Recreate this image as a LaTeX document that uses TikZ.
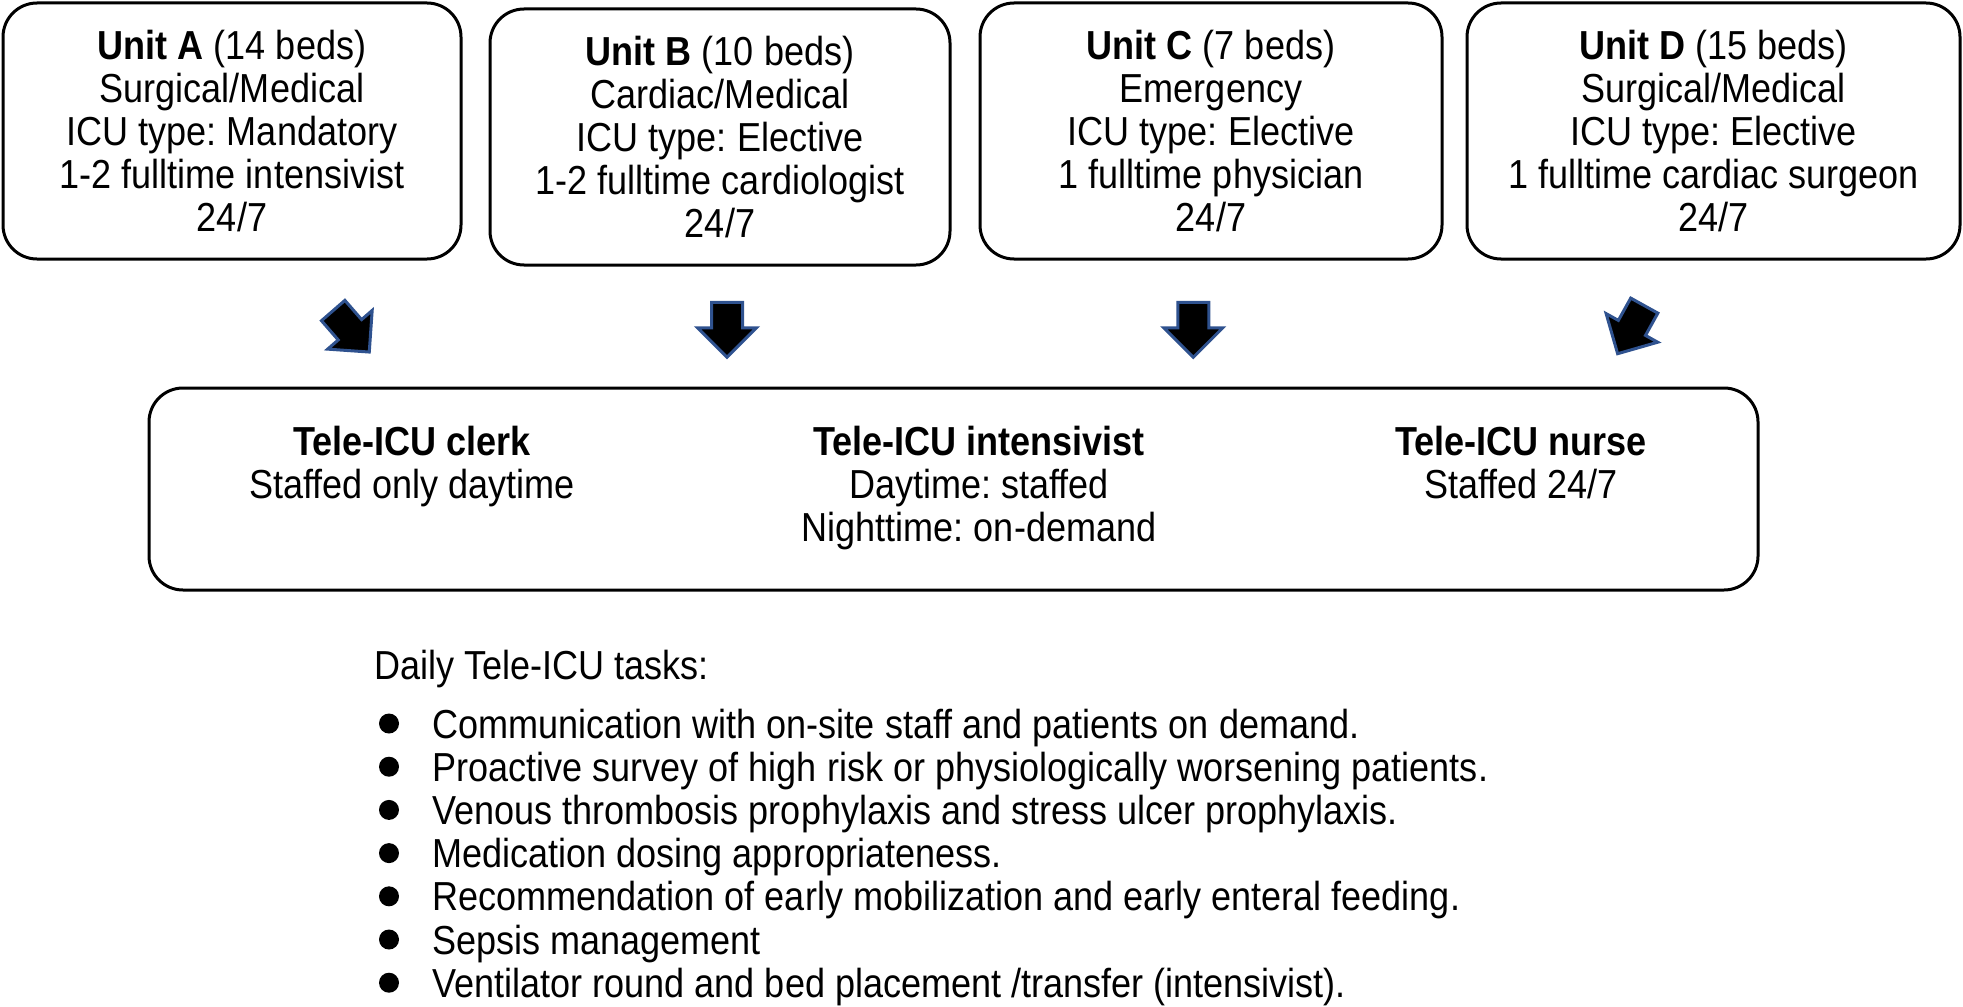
\documentclass[tikz,border=0pt]{standalone}
\usepackage{fontspec}
\setmainfont{Liberation Sans}[FakeStretch=0.89]
\usetikzlibrary{shapes.arrows}
\definecolor{arrowedge}{RGB}{47,82,143}
\frenchspacing
\tikzset{unitbox/.style={draw,line width=1.5pt,rounded corners=17pt,align=center,inner sep=0pt},
	staffnode/.style={align=center,inner sep=0pt,anchor=north},
	blockarrow/.style={single arrow,draw=arrowedge,fill=black,line width=1.5pt,anchor=tail,
		minimum height=27.5pt,inner xsep=0pt,inner ysep=7pt,
		single arrow head extend=7pt,single arrow tip angle=90},
	tasknode/.style={anchor=base west,inner sep=0pt},
	dotnode/.style={circle,fill=black,inner sep=0pt,minimum size=10pt}}

\begin{document}
\begin{tikzpicture}
	[x=0.5pt,y=-0.5pt,font=\fontsize{20.25pt}{21.4pt}\selectfont]
	\useasboundingbox (0,0) rectangle (1963,1006);
	% units
	\node [unitbox,minimum width=229pt,minimum height=128pt] (unitA) at (232,131)
	{\textbf{Unit A} (14 beds)\\Surgical/Medical\\ICU type: Mandatory\\1-2 fulltime intensivist\\24/7};
	\node [unitbox,minimum width=230pt,minimum height=128pt] (unitB) at (720,137)
	{\textbf{Unit B} (10 beds)\\Cardiac/Medical\\ICU type: Elective\\1-2 fulltime cardiologist\\24/7};
	\node [unitbox,minimum width=231pt,minimum height=128pt] (unitC) at (1211,131)
	{\textbf{Unit C} (7 beds)\\Emergency\\ICU type: Elective\\1 fulltime physician\\24/7};
	\node [unitbox,minimum width=246.5pt,minimum height=128pt] (unitD) at (1713.5,131)
	{\textbf{Unit D} (15 beds)\\Surgical/Medical\\ICU type: Elective\\1 fulltime cardiac surgeon\\24/7};
	% block arrows
	\node [blockarrow,rotate=-49] (arrA) at (332.2,309.4) {};
	\node [blockarrow,rotate=-90] (arrB) at (727,300.8) {};
	\node [blockarrow,rotate=-90] (arrC) at (1193.3,300.8) {};
	\node [blockarrow,rotate=-119] (arrD) at (1645,304.3) {};
	% tele-icu
	\node [unitbox,minimum width=804.5pt,minimum height=101pt] (tele) at (953.5,489) {};
	\node [staffnode] (clerk) at (412,426) {\textbf{Tele-ICU clerk}\\Staffed only daytime};
	\node [staffnode] (intens) at (979,426) {\textbf{Tele-ICU intensivist}\\Daytime: staffed\\Nighttime: on-demand};
	\node [staffnode] (nurse) at (1521,426) {\textbf{Tele-ICU nurse}\\Staffed 24/7};
	% tasks
	\node [tasknode] (tasks) at (374,679.5) {Daily Tele-ICU tasks:};
	\node [tasknode] (t1) at (432,738) {Communication with on-site staff and patients on demand.};
	\node [tasknode] (t2) at (432,781.2) {Proactive survey of high risk or physiologically worsening patients.};
	\node [tasknode] (t3) at (432,824.4) {Venous thrombosis prophylaxis and stress ulcer prophylaxis.};
	\node [tasknode] (t4) at (432,867.6) {Medication dosing appropriateness.};
	\node [tasknode] (t5) at (432,910.8) {Recommendation of early mobilization and early enteral feeding.};
	\node [tasknode] (t6) at (432,954) {Sepsis management};
	\node [tasknode] (t7) at (432,997.2) {Ventilator round and bed placement /transfer (intensivist).};
	\node [dotnode] (d1) at (389,723.5) {};
	\node [dotnode] (d2) at (389,766.7) {};
	\node [dotnode] (d3) at (389,809.9) {};
	\node [dotnode] (d4) at (389,853.1) {};
	\node [dotnode] (d5) at (389,896.3) {};
	\node [dotnode] (d6) at (389,939.5) {};
	\node [dotnode] (d7) at (389,982.7) {};
\end{tikzpicture}
\end{document}
